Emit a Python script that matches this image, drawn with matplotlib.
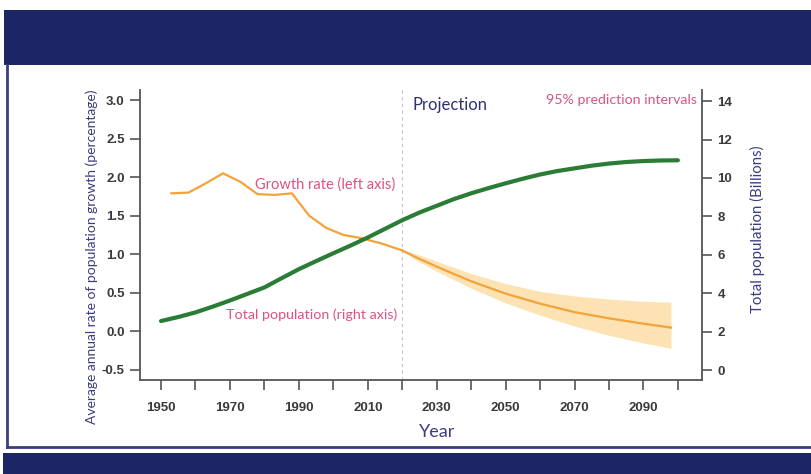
import numpy as np
import matplotlib
matplotlib.use("Agg")
import matplotlib.pyplot as plt
from matplotlib.patches import Rectangle
from matplotlib.lines import Line2D

# growth rate, observed (left axis, %)
hist_years = [1953, 1958, 1963, 1968, 1973, 1978, 1983, 1988, 1993, 1998, 2003, 2008, 2014, 2020]
hist_rate = [1.79, 1.80, 1.92, 2.05, 1.94, 1.78, 1.77, 1.79, 1.50, 1.34, 1.25, 1.21, 1.14, 1.05]

# growth rate, projected median and 95% interval
proj_years = [2020, 2025, 2030, 2040, 2050, 2060, 2070, 2080, 2090, 2098]
proj_rate = [1.05, 0.94, 0.84, 0.65, 0.49, 0.36, 0.25, 0.17, 0.10, 0.05]
proj_upper = [1.06, 0.99, 0.91, 0.75, 0.62, 0.52, 0.46, 0.42, 0.39, 0.38]
proj_lower = [1.04, 0.90, 0.78, 0.56, 0.37, 0.21, 0.07, -0.05, -0.15, -0.22]

# total population (right axis, billions)
pop_years = [1950, 1955, 1960, 1965, 1970, 1975, 1980, 1985, 1990, 1995, 2000, 2005, 2010, 2015, 2020,
             2025, 2030, 2035, 2040, 2045, 2050, 2055, 2060, 2065, 2070, 2075, 2080, 2085, 2090, 2095, 2100]
pop_total = [2.55, 2.76, 3.0, 3.3, 3.62, 3.96, 4.3, 4.78, 5.25, 5.67, 6.08, 6.48, 6.9, 7.35, 7.8,
             8.2, 8.55, 8.9, 9.2, 9.47, 9.72, 9.96, 10.18, 10.36, 10.5, 10.64, 10.75, 10.83, 10.88, 10.91, 10.92]

left_ticks = [-0.5, 0.0, 0.5, 1.0, 1.5, 2.0, 2.5, 3.0]
right_ticks = [0, 2, 4, 6, 8, 10, 12, 14]

navy = "#1c2667"
pink = "#dc5284"
label_col = "#3c3c82"
orange = "#f2a33a"
green = "#2b7d35"
W, H = 811, 474

fig = plt.figure(figsize=(W / 100, H / 100), dpi=100)
fig.patch.set_facecolor("white")

# frame decorations
fig.add_artist(Rectangle((4 / W, (H - 65) / H), (W - 4) / W, 55 / H, transform=fig.transFigure, color=navy, lw=0))
fig.add_artist(Rectangle((3 / W, 0), (W - 3) / W, (H - 453) / H, transform=fig.transFigure, color=navy, lw=0))
fig.add_artist(Line2D([7 / W, 7 / W], [(H - 65) / H, (H - 447) / H], transform=fig.transFigure, color="#3a3f78", lw=2))
fig.add_artist(Line2D([7 / W, 1], [(H - 447) / H, (H - 447) / H], transform=fig.transFigure, color="#3a3f78", lw=2))

ax = fig.add_axes([140 / W, (H - 380) / H, (702 - 140) / W, (380 - 90) / H])
ax2 = ax.twinx()

ax.fill_between(proj_years, proj_lower, proj_upper, color="#fde2b4", lw=0, zorder=1)
ax.plot(hist_years, hist_rate, color=orange, lw=1.6, zorder=3)
ax.plot(proj_years, proj_rate, color=orange, lw=1.6, zorder=3)
ax.axvline(2020, color="#c4c4c4", lw=0.8, ls=(0, (3, 3)), zorder=0)

ax2.plot(pop_years, pop_total, color=green, lw=3, solid_capstyle="round", zorder=4)

ax.set_xlim(1943.9, 2107)
ax.set_ylim(-0.63, 3.13)
ax2.set_ylim(-0.52, 14.58)

ax.set_xticks(np.arange(1950, 2101, 10))
ax.set_xticklabels([str(y) if (y - 1950) % 20 == 0 and y < 2100 else "" for y in range(1950, 2101, 10)])
ax.set_yticks(left_ticks)
ax.set_yticklabels([f"{v:.1f}" for v in left_ticks])
ax2.set_yticks(right_ticks)

for a in (ax, ax2):
    a.spines["top"].set_visible(False)
    for s in ("left", "right", "bottom"):
        a.spines[s].set_color("#555555")
        a.spines[s].set_linewidth(1.3)
    a.tick_params(colors="#555555", width=1.2, length=7, labelsize=9.5, labelcolor="#3a3a3a", pad=4)
    for t in a.get_xticklabels() + a.get_yticklabels():
        t.set_family("Liberation Sans")
        t.set_fontweight("bold")
ax.spines["right"].set_visible(False)
ax2.spines["left"].set_visible(False)
ax2.spines["bottom"].set_visible(False)
ax.tick_params(axis="x", pad=9)

# axis titles
fig.text(92 / W, 1 - 257 / H, "Average annual rate of population growth (percentage)", rotation=90,
         ha="center", va="center", color=label_col, fontsize=10, family="Lato")
fig.text(757 / W, 1 - 229 / H, "Total population (Billions)", rotation=90,
         ha="center", va="center", color=label_col, fontsize=10.8, family="Lato")
fig.text(437 / W, 1 - 432 / H, "Year", ha="center", va="center", color=label_col, fontsize=13, family="Lato")

# annotations
fig.text(413 / W, 1 - 105 / H, "Projection", ha="left", va="center", color="#2f3272", fontsize=12, family="Lato")
fig.text(697 / W, 1 - 100 / H, "95% prediction intervals", ha="right", va="center", color=pink, fontsize=10.2, family="Lato")
fig.text(325 / W, 1 - 185 / H, "Growth rate (left axis)", ha="center", va="center", color=pink, fontsize=10.5, family="Lato")
fig.text(312 / W, 1 - 315 / H, "Total population (right axis)", ha="center", va="center", color=pink, fontsize=10.3, family="Lato")

fig.savefig("out.png", dpi=100)
